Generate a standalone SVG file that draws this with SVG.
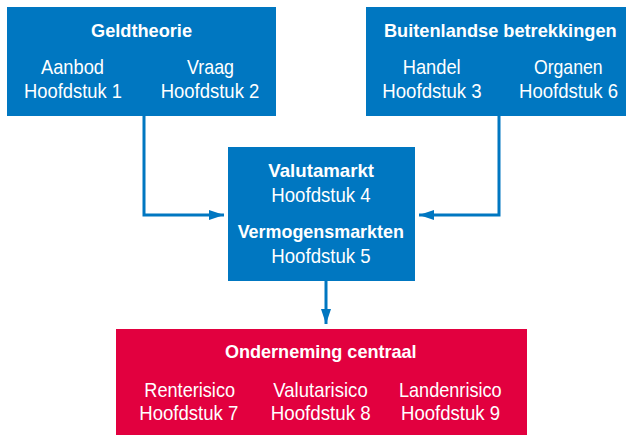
<svg xmlns="http://www.w3.org/2000/svg" width="626" height="435" viewBox="0 0 626 435">
<style>
.blue{fill:#0077C1}
.red{fill:#E2003F}
text{font-family:"Liberation Sans",Arial,sans-serif;fill:#FFFFFF;text-anchor:middle}
.b{font-weight:bold;font-size:18.5px}
.r{font-size:21px}
.conn{fill:none;stroke:#0077C1;stroke-width:3}
.head{fill:#0077C1}
</style>
<defs>
<marker id="arr" viewBox="0 0 15 10" refX="15" refY="5" markerWidth="15" markerHeight="10" markerUnits="userSpaceOnUse" orient="auto">
<path d="M0,0 L15,5 L0,10 Z" class="head"/>
</marker>
</defs>
<g id="connectors">
<path class="conn" d="M144,116 V215 H224" marker-end="url(#arr)"/>
<path class="conn" d="M499,116 V215 H419" marker-end="url(#arr)"/>
<path class="conn" d="M326,281 V324" marker-end="url(#arr)"/>
</g>
<g id="geldtheorie">
<rect class="blue" x="7" y="7" width="269" height="109"/>
<text class="b" x="141.5" y="36.7" textLength="101" lengthAdjust="spacingAndGlyphs">Geldtheorie</text>
<text class="r" x="72.5" y="74" textLength="63" lengthAdjust="spacingAndGlyphs">Aanbod</text>
<text class="r" x="73" y="97.7" textLength="98" lengthAdjust="spacingAndGlyphs">Hoofdstuk 1</text>
<text class="r" x="210.5" y="74" textLength="47" lengthAdjust="spacingAndGlyphs">Vraag</text>
<text class="r" x="210" y="97.7" textLength="98.6" lengthAdjust="spacingAndGlyphs">Hoofdstuk 2</text>
</g>
<g id="buitenlandse">
<rect class="blue" x="366" y="7" width="260" height="109"/>
<text class="b" x="500.3" y="36.7" textLength="232.7" lengthAdjust="spacingAndGlyphs">Buitenlandse betrekkingen</text>
<text class="r" x="431.7" y="74" textLength="58" lengthAdjust="spacingAndGlyphs">Handel</text>
<text class="r" x="432" y="97.7" textLength="99.4" lengthAdjust="spacingAndGlyphs">Hoofdstuk 3</text>
<text class="r" x="568.3" y="74" textLength="68.7" lengthAdjust="spacingAndGlyphs">Organen</text>
<text class="r" x="568.5" y="97.7" textLength="99" lengthAdjust="spacingAndGlyphs">Hoofdstuk 6</text>
</g>
<g id="markten">
<rect class="blue" x="228" y="147" width="187" height="134"/>
<text class="b" x="321.2" y="177.3" textLength="105.7" lengthAdjust="spacingAndGlyphs">Valutamarkt</text>
<text class="r" x="321" y="201.7" textLength="99.4" lengthAdjust="spacingAndGlyphs">Hoofdstuk 4</text>
<text class="b" x="320.8" y="238.3" textLength="166.3" lengthAdjust="spacingAndGlyphs">Vermogensmarkten</text>
<text class="r" x="321" y="262.7" textLength="99.4" lengthAdjust="spacingAndGlyphs">Hoofdstuk 5</text>
</g>
<g id="onderneming">
<rect class="red" x="116" y="329" width="411" height="106"/>
<text class="b" x="320.8" y="357.7" textLength="191.7" lengthAdjust="spacingAndGlyphs">Onderneming centraal</text>
<text class="r" x="189.7" y="397.3" textLength="90.7" lengthAdjust="spacingAndGlyphs">Renterisico</text>
<text class="r" x="188.8" y="420" textLength="99" lengthAdjust="spacingAndGlyphs">Hoofdstuk 7</text>
<text class="r" x="320.5" y="397.3" textLength="94.4" lengthAdjust="spacingAndGlyphs">Valutarisico</text>
<text class="r" x="320.7" y="420" textLength="100" lengthAdjust="spacingAndGlyphs">Hoofdstuk 8</text>
<text class="r" x="450.3" y="397.3" textLength="102.7" lengthAdjust="spacingAndGlyphs">Landenrisico</text>
<text class="r" x="450.5" y="420" textLength="99" lengthAdjust="spacingAndGlyphs">Hoofdstuk 9</text>
</g>
</svg>
